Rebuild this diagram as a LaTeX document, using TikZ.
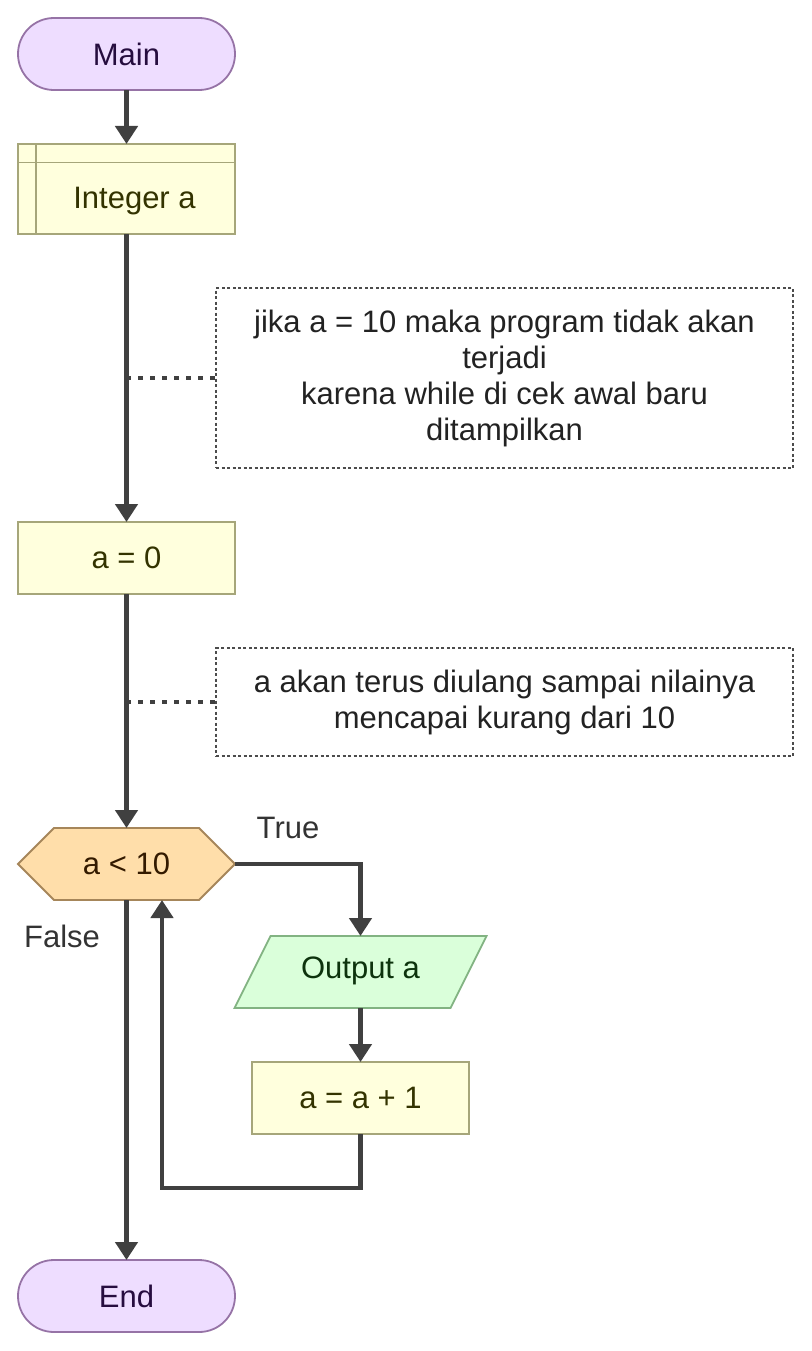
\documentclass[tikz,border=0pt]{standalone}
\usepackage{fontspec}
\setmainfont{Liberation Sans}
\usetikzlibrary{arrows.meta,calc}
\definecolor{termfill}{HTML}{EEDDFF}
\definecolor{termdraw}{HTML}{9673A6}
\definecolor{termtext}{HTML}{260D3F}
\definecolor{procfill}{HTML}{FFFFDD}
\definecolor{procdraw}{HTML}{A6A67A}
\definecolor{proctext}{HTML}{333300}
\definecolor{decfill}{HTML}{FFDEAA}
\definecolor{decdraw}{HTML}{A6865A}
\definecolor{dectext}{HTML}{331A00}
\definecolor{iofill}{HTML}{DAFFDA}
\definecolor{iodraw}{HTML}{82B382}
\definecolor{iotext}{HTML}{0D330D}
\definecolor{linec}{HTML}{404040}
\definecolor{notec}{HTML}{222222}
\begin{document}
\begin{tikzpicture}[x=1pt,y=-1pt,
  every node/.style={font=\fontsize{31}{36}\selectfont, inner sep=0pt, outer sep=0pt},
  term/.style={rectangle, rounded corners=35.9pt, draw=termdraw, fill=termfill, line width=1.8pt,
     minimum width=217pt, minimum height=72pt, text=termtext},
  proc/.style={rectangle, draw=procdraw, fill=procfill, line width=1.8pt,
     minimum width=217pt, minimum height=72pt, text=proctext},
  shapebox/.style={rectangle, draw=none, minimum height=72pt},
  note/.style={rectangle, draw=black!70, line width=1.3pt, dash pattern=on 3pt off 2.5pt,
     minimum width=577pt, text=notec, align=center},
  arr/.style={draw=linec, line width=4.5pt, -{Triangle[length=18pt,width=22pt]}},
  dotc/.style={draw=linec, line width=3.5pt, dash pattern=on 4.5pt off 7.5pt},
  lab/.style={text=black!80}
]
\useasboundingbox (0,0) rectangle (811,1351);

% nodes
\node[term] (main) at (126.5,54) {Main};
\node[proc, minimum height=90pt,
  path picture={
    \draw[procdraw, line width=1.8pt] ([xshift=18pt]path picture bounding box.north west) -- ([xshift=18pt]path picture bounding box.south west);
    \draw[procdraw, line width=1.8pt] ([yshift=-18.5pt]path picture bounding box.north west) -- ([yshift=-18.5pt]path picture bounding box.north east);
  },
  label={[text=proctext, xshift=8pt, yshift=-12pt]center:Integer a}] (int) at (126.5,189) {};
\node[proc] (a0) at (126.5,558) {a = 0};

\node[note, minimum height=180pt] (n1) at (504.5,378)
  {jika a = 10 maka program tidak akan\\terjadi\\karena while di cek awal baru\\ditampilkan};
\node[note, minimum height=108pt] (n2) at (504.5,702)
  {a akan terus diulang sampai nilainya\\mencapai kurang dari 10};

% decision hexagon
\node[shapebox, minimum width=217pt] (dec) at (126.5,864) {};
\fill[decfill, draw=decdraw, line width=1.8pt]
  (dec.west) -- ($(dec.north west)+(36,0)$) -- ($(dec.north east)+(-36,0)$) -- (dec.east)
  -- ($(dec.south east)+(-36,0)$) -- ($(dec.south west)+(36,0)$) -- cycle;
\node[text=dectext] (dect) at (dec.center) {a < 10};

% output parallelogram
\node[shapebox, minimum width=216pt] (out) at (360.5,972) {};
\fill[iofill, draw=iodraw, line width=1.8pt]
  ($(out.south west)+(-18,0)$) -- ($(out.north west)+(18,0)$) -- ($(out.north east)+(18,0)$)
  -- ($(out.south east)+(-18,0)$) -- cycle;
\node[text=iotext] (outt) at ([yshift=1.5pt]out.center) {Output a};

\node[proc] (inc) at (360.5,1098) {a = a + 1};
\node[term] (end) at (126.5,1296) {End};

% labels
\node[lab] (tlab) at (288,828) {True};
\node[lab] (flab) at (62,936) {False};

% coordinates
\coordinate (d1) at (126,378);
\coordinate (d2) at (126,702);
\coordinate (loopc) at (162,1188);

% connectors
\draw[arr] (main.south) -- (int.north);
\draw[arr] (int.south) -- (a0.north);
\draw[arr] (a0.south) -- (dec.north);
\draw[arr] (dec.east) -| (out.north);
\draw[arr] (out.south) -- (inc.north);
\draw[arr] (inc.south) |- (loopc) -- (loopc |- dec.south);
\draw[arr] (dec.south) -- (end.north);

\draw[dotc] (d1) -- (n1.west);
\draw[dotc] (d2) -- (n2.west);
\end{tikzpicture}
\end{document}
